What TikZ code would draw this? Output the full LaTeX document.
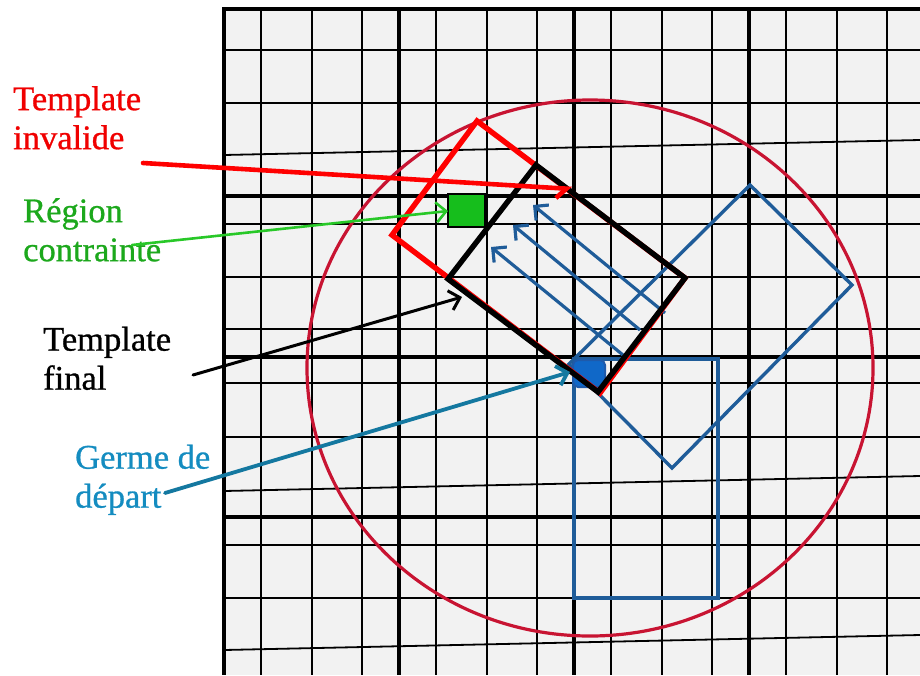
\documentclass[tikz,border=0pt]{standalone}
\usepackage{fontspec}
\setmainfont{Liberation Serif}
\newfontfamily\lblfont{Liberation Serif}[FakeBold=0.8]
\usepackage{tikz}
\usetikzlibrary{arrows.meta}
\definecolor{gridgray}{RGB}{242,242,242}
\definecolor{crimson}{RGB}{200,20,50}
\definecolor{pathblue}{RGB}{31,92,153}
\definecolor{seedblue}{RGB}{16,104,200}
\definecolor{seededge}{RGB}{30,90,170}
\definecolor{zonegreen}{RGB}{22,190,28}
\definecolor{txtred}{RGB}{240,0,0}
\definecolor{txtgreen}{RGB}{28,168,28}
\definecolor{arrgreen}{RGB}{40,200,40}
\definecolor{txtteal}{RGB}{20,140,192}
\definecolor{arrteal}{RGB}{20,120,160}
\tikzset{
  minorline/.style={line width=2.1pt, color=black},
  majorline/.style={line width=3.6pt, color=black},
  slantline/.style={line width=1.8pt, color=black},
  lbltext/.style={anchor=north west, inner sep=0pt, align=left,
    font=\lblfont\fontsize{34.5}{39}\selectfont},
  barb/.style={-{Straight Barb[length=10pt, width=20pt]}},
  callout/.style={barb, line cap=round},
  scanarrow/.style={barb, color=pathblue, line width=3.2pt},
  tmplbox/.style={line width=5.4pt, line join=miter}
}

\begin{document}
\begin{tikzpicture}[x=1pt, y=-1pt]
  \useasboundingbox (0,0) rectangle (920,675);

  % grid
  \begin{scope}
    \clip (224,9) rectangle (920,675);
    \fill[gridgray] (224,9) rectangle (920,675);
    \foreach \b in {224,399,574,749}
      \foreach \d in {37,88,138}
        \draw[minorline] (\b+\d,0) -- (\b+\d,675);
    \foreach \y in {50,103,224,277,329,383,437,545,598}
      \draw[minorline] (224,\y) -- (920,\y);
    \foreach \y in {155,491,650}
      \draw[slantline] (224,\y) -- (920,\y-15);
    \foreach \x in {399,574,749}
      \draw[majorline] (\x,0) -- (\x,675);
    \foreach \y in {196,357,517}
      \draw[majorline] (224,\y) -- (920,\y);
  \end{scope}
  \draw[majorline] (920,9) -- (224,9) -- (224,675);

  % search zone
  \draw[crimson, line width=3.2pt] (590,368) ellipse [x radius=283, y radius=268];

  % candidate templates
  \draw[pathblue, line width=3.4pt] (574,359) rectangle (718,598);
  \draw[pathblue, line width=3.4pt] (569,364) -- (750,185) -- (852,285) -- (672,468) -- cycle;

  \draw[scanarrow] (665,313) -- (533,205);
  \draw[scanarrow] (640,330) -- (513,225);
  \draw[scanarrow] (623,355) -- (491,247);

  % seed
  \filldraw[fill=seedblue, draw=seededge, line width=2pt, rounded corners=5pt]
    (573,360) rectangle (605,387);

  % invalid and final templates
  \draw[red, tmplbox] (477,121) -- (685,278) -- (600,393) -- (392,235) -- cycle;
  \coordinate (tA) at (536,165);
  \coordinate (tB) at (685,278);
  \coordinate (tC) at (598,392);
  \coordinate (tD) at (448,279);
  \draw[black, tmplbox] (tA) -- (tB) -- (tC) -- (tD) -- cycle;

  % constrained region
  \filldraw[fill=zonegreen, draw=black, line width=2.6pt] (448,194) rectangle (485,227);

  % labels
  \node[lbltext, text=txtred] (lblinv) at (13,86) {Template\\invalide};
  \node[lbltext, text=txtgreen] (lblzone) at (23,198) {Région\\contrainte};
  \node[lbltext, text=black] (lblfin) at (43,326.5) {Template\\final};
  \node[lbltext, text=txtteal] (lblseed) at (75,444.5) {Germe de\\départ};

  % callouts
  \coordinate (invfrom) at (143,163);
  \coordinate (invto) at (572,189);
  \coordinate (zonefrom) at (132,245);
  \coordinate (zoneto) at (448,211);
  \coordinate (finfrom) at (193,375);
  \coordinate (finto) at (462,297);
  \coordinate (seedfrom) at (165,493);
  \coordinate (seedto) at (570,372);

  \draw[callout, red, line width=4.6pt, -{Straight Barb[length=10pt, width=20pt, right]}]
    (invfrom) -- (invto);
  \draw[callout, arrgreen, line width=2.6pt] (zonefrom) -- (zoneto);
  \draw[callout, black, line width=3pt] (finfrom) -- (finto);
  \draw[callout, arrteal, line width=3.8pt] (seedfrom) -- (seedto);
\end{tikzpicture}
\end{document}
